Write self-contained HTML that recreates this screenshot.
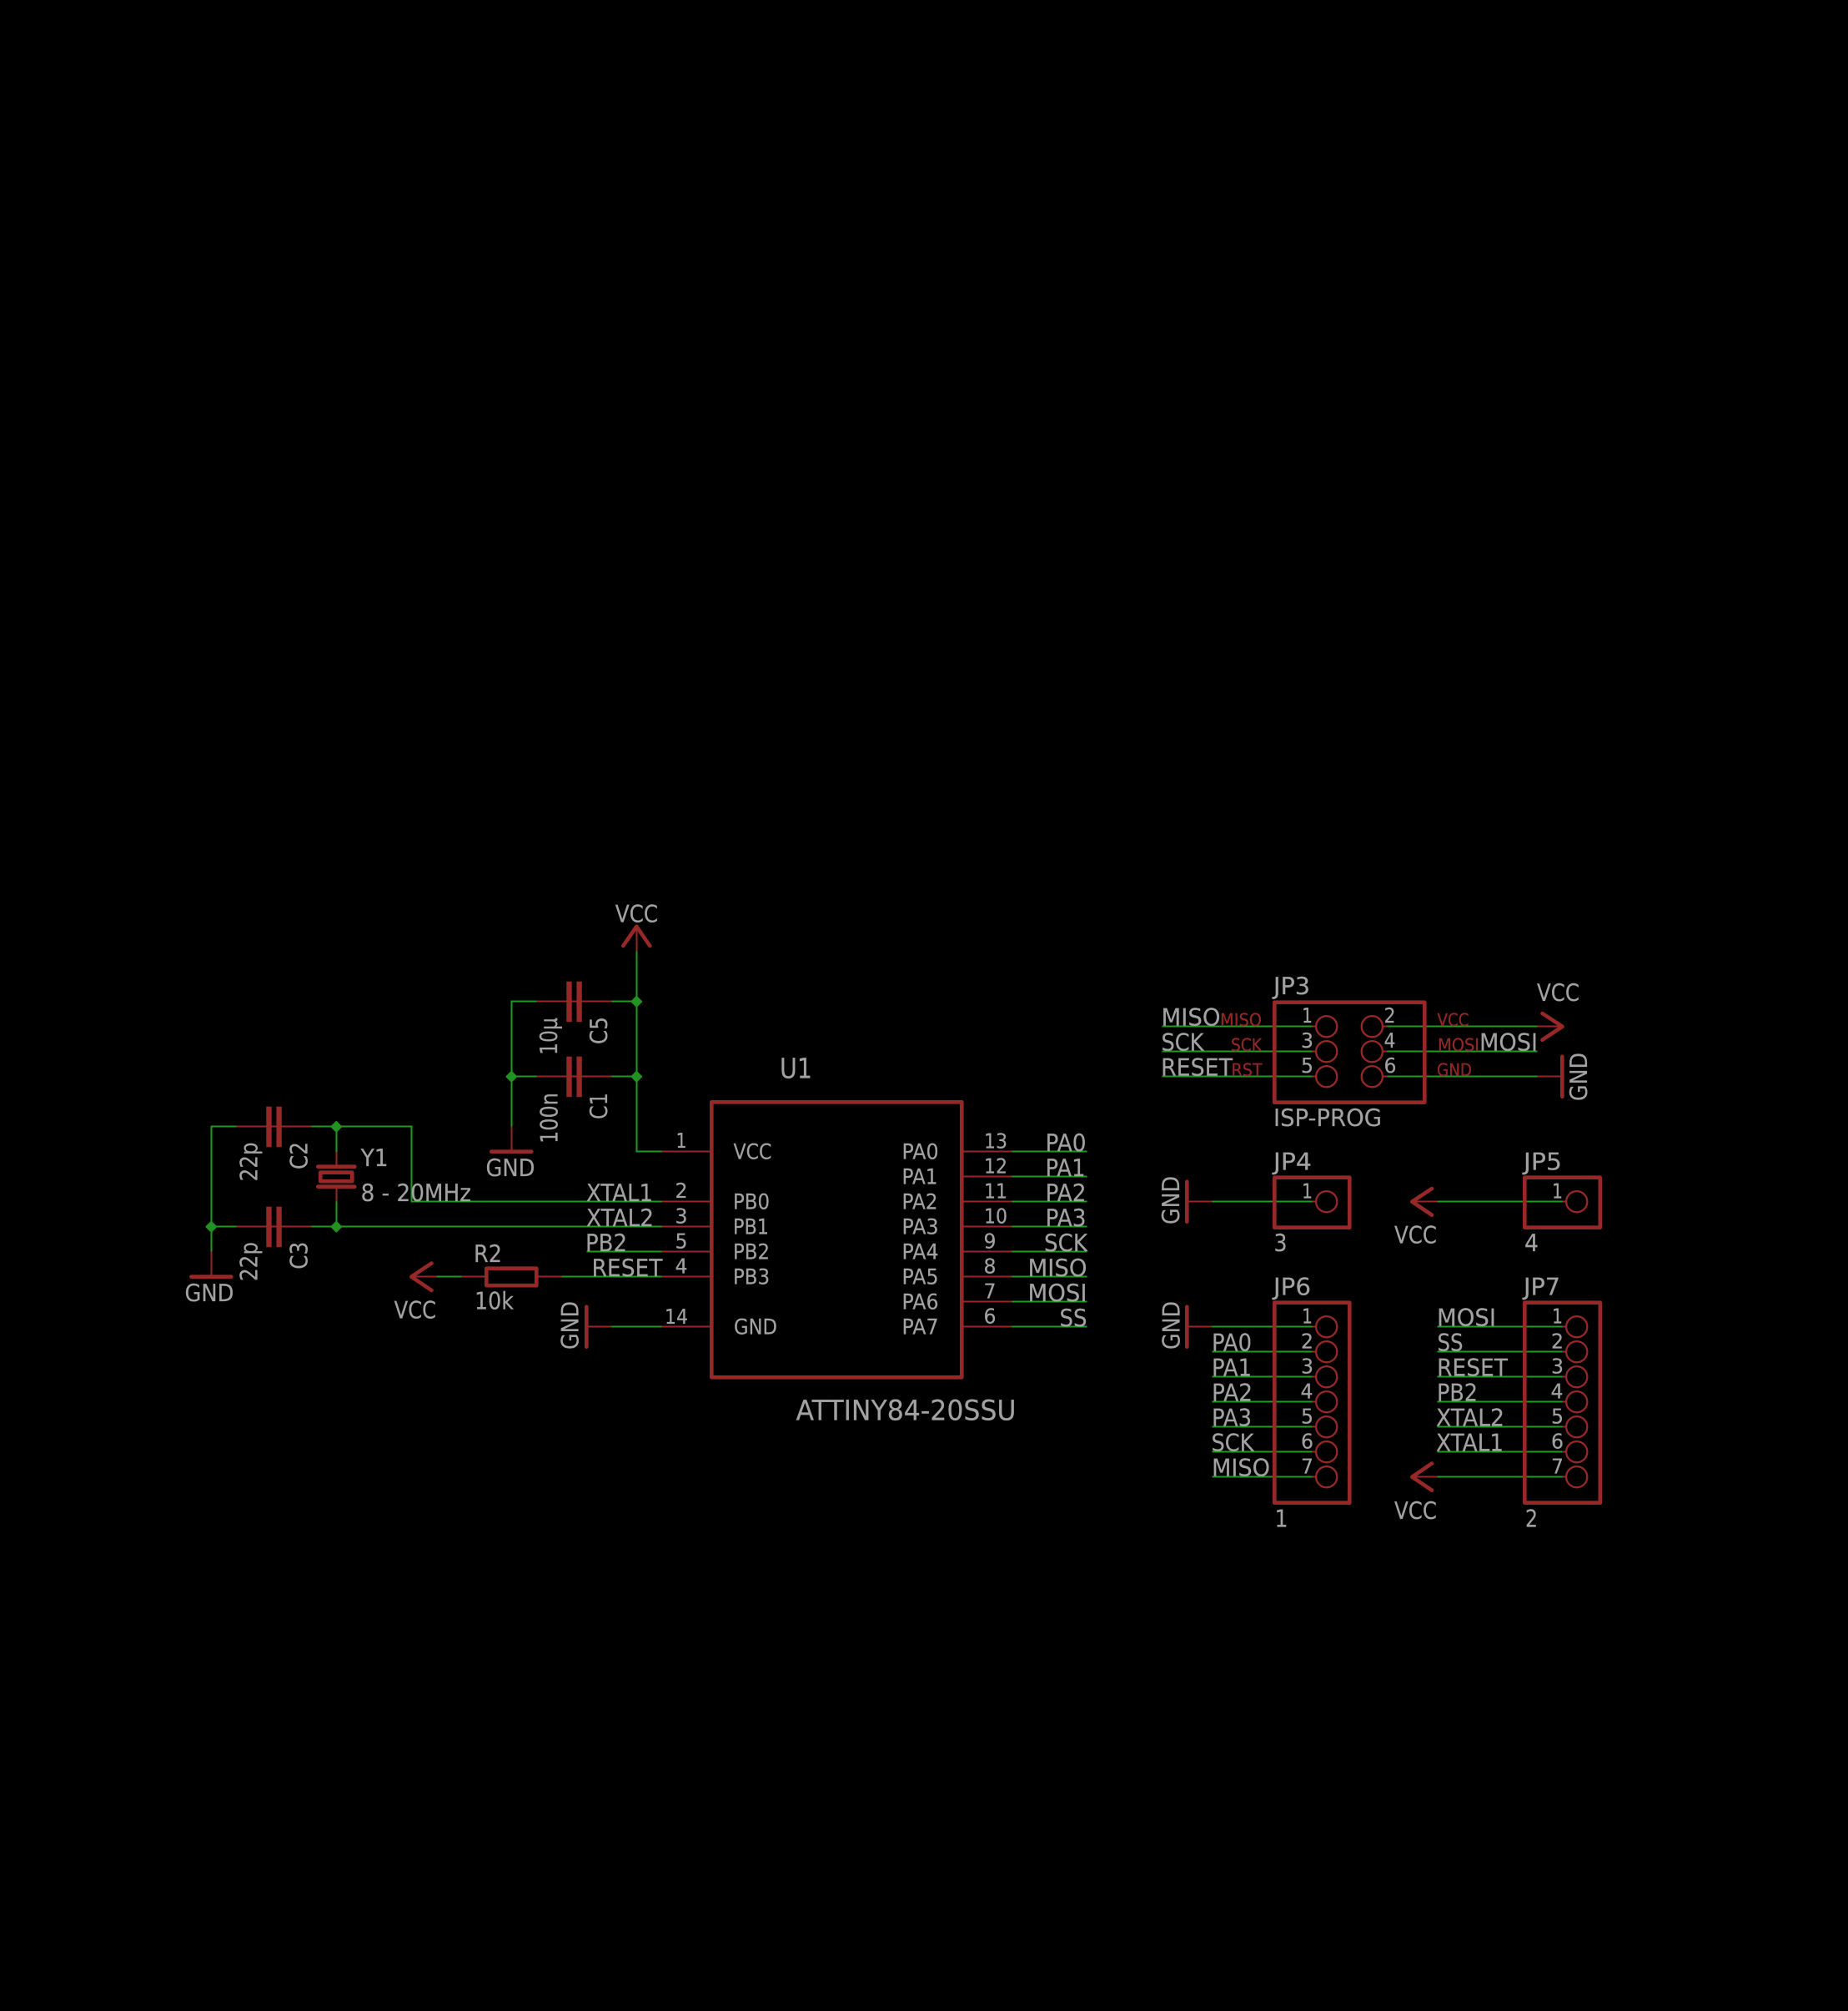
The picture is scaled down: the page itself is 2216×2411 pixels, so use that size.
<!DOCTYPE html>
<html><head><meta charset="utf-8"><title>ATTINY84 schematic</title>
<style>
html,body{margin:0;padding:0;background:#000;width:2216px;height:2411px;overflow:hidden}
svg{display:block}
text{font-family:"DejaVu Sans","Liberation Sans",sans-serif;fill:#a2a2a2;stroke:#a2a2a2;stroke-width:.2;text-rendering:geometricPrecision}
.l{font-size:28.5px}.p{font-size:25.5px}.n{font-size:24.5px}.s{font-size:21px}
.s text{fill:#962828;stroke:#962828}
text.b{font-size:33.5px}
.g{stroke:#229a22;stroke-width:2;fill:none;shape-rendering:crispEdges}
.r{stroke:#962828;stroke-width:2;fill:none;shape-rendering:crispEdges}
.t{stroke:#962828;stroke-width:4.6;fill:none;stroke-linecap:round;stroke-linejoin:round}
.o{stroke:#962828;stroke-width:2.3;fill:none}
.f{fill:#962828}
.d path{fill:#229222;stroke:#229222;stroke-width:2.5;stroke-linejoin:round}
</style></head><body>
<svg xmlns="http://www.w3.org/2000/svg" width="2216" height="2411" viewBox="0 0 2216 2411">
<rect width="2216" height="2411" fill="#000"/>

<!-- green wires, left sheet -->
<path class="g" d="M763.3 1140.7V1380.7H793.3M613.3 1350.7V1200.7H643.3M733.3 1200.7H763.3M613.3 1290.7H643.3M733.3 1290.7H763.3"/>
<path class="g" d="M253.3 1500.7V1350.7H283.3M373.3 1350.7H493.3V1440.7H793.3M403.3 1350.7V1381M403.3 1440V1470.7M253.3 1470.7H283.3M373.3 1470.7H793.3M703.3 1500.7H793.3M673.3 1530.7H793.3M523.3 1530.7H553.3M732.3 1590.7H793.3"/>
<!-- green wires, right of U1 -->
<path class="g" d="M1213.3 1380.7H1303.3M1213.3 1410.7H1303.3M1213.3 1440.7H1303.3M1213.3 1470.7H1303.3M1213.3 1500.7H1303.3M1213.3 1530.7H1303.3M1213.3 1560.7H1303.3M1213.3 1590.7H1303.3"/>
<!-- green wires, JP3 -->
<path class="g" d="M1393.3 1230.7H1573.3M1393.3 1260.7H1573.3M1393.3 1290.7H1573.3M1663.3 1230.7H1843.3M1663.3 1260.7H1843.3M1663.3 1290.7H1843.3"/>
<!-- green wires, JP4 JP5 -->
<path class="g" d="M1453.3 1440.7H1573.3M1723.3 1440.7H1873.3"/>
<!-- green wires, JP6 JP7 -->
<path class="g" d="M1453.3 1590.7H1573.3M1453.3 1620.7H1573.3M1453.3 1650.7H1573.3M1453.3 1680.7H1573.3M1453.3 1710.7H1573.3M1453.3 1740.7H1573.3M1453.3 1770.7H1573.3"/>
<path class="g" d="M1723.3 1590.7H1873.3M1723.3 1620.7H1873.3M1723.3 1650.7H1873.3M1723.3 1680.7H1873.3M1723.3 1710.7H1873.3M1723.3 1740.7H1873.3M1723.3 1770.7H1873.3"/>

<!-- junctions -->
<g class="d">
<path d="M763.3 1195.2L768.8 1200.7L763.3 1206.2L757.8 1200.7Z"/>
<path d="M763.3 1285.2L768.8 1290.7L763.3 1296.2L757.8 1290.7Z"/>
<path d="M613.3 1285.2L618.8 1290.7L613.3 1296.2L607.8 1290.7Z"/>
<path d="M403.3 1345.2L408.8 1350.7L403.3 1356.2L397.8 1350.7Z"/>
<path d="M403.3 1465.2L408.8 1470.7L403.3 1476.2L397.8 1470.7Z"/>
<path d="M253.3 1465.2L258.8 1470.7L253.3 1476.2L247.8 1470.7Z"/>
</g>

<!-- capacitors -->
<path class="r" d="M643.3 1200.7H733.3M643.3 1290.7H733.3M283.3 1350.7H373.3M283.3 1470.7H373.3"/>
<g class="f">
<rect x="679.3" y="1176.7" width="6.4" height="48.5"/><rect x="691.4" y="1176.7" width="6.4" height="48.5"/>
<rect x="679.3" y="1266.7" width="6.4" height="48.5"/><rect x="691.4" y="1266.7" width="6.4" height="48.5"/>
<rect x="319.3" y="1326.7" width="6.4" height="48.5"/><rect x="331.4" y="1326.7" width="6.4" height="48.5"/>
<rect x="319.3" y="1446.7" width="6.4" height="48.5"/><rect x="331.4" y="1446.7" width="6.4" height="48.5"/>
</g>

<!-- crystal -->
<path class="r" d="M403.3 1381V1399M403.3 1423V1440.7"/>
<path class="t" d="M381.3 1398.7H425.3M381.3 1422.7H425.3"/>
<rect class="t" x="384.3" y="1405.7" width="38" height="10.5"/>

<!-- resistor + VCC arrow -->
<path class="r" d="M493.3 1530.7H523.3M553.3 1530.7H583.3M643.3 1530.7H673.3"/>
<rect class="t" x="583.3" y="1520.7" width="60" height="20.5"/>
<path class="t" d="M517.5 1514.5L493.3 1530.7L517.5 1547"/>

<!-- top VCC arrow -->
<path class="r" d="M763.3 1111V1140.7"/>
<path class="t" d="M747.3 1134L763.3 1110.7L779.3 1134"/>

<!-- GND symbols left -->
<path class="r" d="M613.3 1350.7V1380.7M253.3 1500.7V1530.7M703.3 1590.7H733.3"/>
<path class="t" d="M589.3 1380.7H637.3M229.3 1530.7H277.3M703.3 1566.7V1614.7"/>

<!-- U1 -->
<rect class="t" x="853.3" y="1321.3" width="300" height="330"/>
<path class="r" d="M793.3 1380.7H853.3M793.3 1440.7H853.3M793.3 1470.7H853.3M793.3 1500.7H853.3M793.3 1530.7H853.3M793.3 1590.7H853.3"/>
<path class="r" d="M1153.3 1380.7H1213.3M1153.3 1410.7H1213.3M1153.3 1440.7H1213.3M1153.3 1470.7H1213.3M1153.3 1500.7H1213.3M1153.3 1530.7H1213.3M1153.3 1560.7H1213.3M1153.3 1590.7H1213.3"/>

<!-- JP3 -->
<rect class="t" x="1528.3" y="1201.7" width="180" height="120"/>
<g class="o">
<circle cx="1590.7" cy="1230.7" r="12.6"/><circle cx="1590.7" cy="1260.7" r="12.6"/><circle cx="1590.7" cy="1290.7" r="12.6"/>
<circle cx="1645.3" cy="1230.7" r="12.6"/><circle cx="1645.3" cy="1260.7" r="12.6"/><circle cx="1645.3" cy="1290.7" r="12.6"/>
</g>
<path class="r" d="M1573.3 1230.7H1578M1573.3 1260.7H1578M1573.3 1290.7H1578M1658 1230.7H1663.3M1658 1260.7H1663.3M1658 1290.7H1663.3M1843.3 1230.7H1873M1843.3 1290.7H1873.3"/>
<path class="t" d="M1849.5 1215L1873.5 1230.7L1849.5 1246.7M1873.3 1266.7V1314.7"/>

<!-- JP4 / JP5 -->
<rect class="t" x="1528.3" y="1411.7" width="90" height="60"/>
<rect class="t" x="1828.3" y="1411.7" width="90.5" height="60"/>
<circle class="o" cx="1590.7" cy="1440.7" r="12.6"/>
<circle class="o" cx="1890.7" cy="1440.7" r="12.6"/>
<path class="r" d="M1423.3 1440.7H1453.3M1573.3 1440.7H1578M1693.3 1440.7H1723.3M1873.3 1440.7H1878"/>
<path class="t" d="M1423.3 1416.7V1464.7M1717 1425L1693.3 1440.7L1717 1456.7"/>

<!-- JP6 / JP7 -->
<rect class="t" x="1528.3" y="1561.7" width="90" height="240"/>
<rect class="t" x="1828.3" y="1561.7" width="90.5" height="240"/>
<g class="o">
<circle cx="1590.7" cy="1590.7" r="12.6"/><circle cx="1590.7" cy="1620.7" r="12.6"/><circle cx="1590.7" cy="1650.7" r="12.6"/><circle cx="1590.7" cy="1680.7" r="12.6"/><circle cx="1590.7" cy="1710.7" r="12.6"/><circle cx="1590.7" cy="1740.7" r="12.6"/><circle cx="1590.7" cy="1770.7" r="12.6"/>
<circle cx="1890.7" cy="1590.7" r="12.6"/><circle cx="1890.7" cy="1620.7" r="12.6"/><circle cx="1890.7" cy="1650.7" r="12.6"/><circle cx="1890.7" cy="1680.7" r="12.6"/><circle cx="1890.7" cy="1710.7" r="12.6"/><circle cx="1890.7" cy="1740.7" r="12.6"/><circle cx="1890.7" cy="1770.7" r="12.6"/>
</g>
<path class="r" d="M1423.3 1590.7H1453.3M1573.3 1590.7H1578M1573.3 1620.7H1578M1573.3 1650.7H1578M1573.3 1680.7H1578M1573.3 1710.7H1578M1573.3 1740.7H1578M1573.3 1770.7H1578M1873.3 1590.7H1878M1873.3 1620.7H1878M1873.3 1650.7H1878M1873.3 1680.7H1878M1873.3 1710.7H1878M1873.3 1740.7H1878M1873.3 1770.7H1878M1693.3 1770.7H1723.3"/>
<path class="t" d="M1423.3 1566.7V1614.7M1717 1754.5L1693.3 1770.7L1717 1786.7"/>

<!-- LEFT labels -->
<g class="l">
<text x="737.7" y="1105.4" textLength="51.5" lengthAdjust="spacingAndGlyphs">VCC</text>
<text transform="translate(668.2,1265) rotate(-90)" textLength="45" lengthAdjust="spacingAndGlyphs">10µ</text>
<text transform="translate(728.2,1252) rotate(-90)" textLength="33" lengthAdjust="spacingAndGlyphs">C5</text>
<text transform="translate(668.4,1371) rotate(-90)" textLength="61" lengthAdjust="spacingAndGlyphs">100n</text>
<text transform="translate(728.2,1342) rotate(-90)" textLength="32" lengthAdjust="spacingAndGlyphs">C1</text>
<text transform="translate(308.6,1416.4) rotate(-90)" textLength="47" lengthAdjust="spacingAndGlyphs">22p</text>
<text transform="translate(368.4,1402) rotate(-90)" textLength="33" lengthAdjust="spacingAndGlyphs">C2</text>
<text transform="translate(308.6,1536) rotate(-90)" textLength="47" lengthAdjust="spacingAndGlyphs">22p</text>
<text transform="translate(368.4,1521.7) rotate(-90)" textLength="33" lengthAdjust="spacingAndGlyphs">C3</text>
<text x="432.6" y="1398.2" textLength="33" lengthAdjust="spacingAndGlyphs">Y1</text>
<text x="432.6" y="1440" textLength="132.5" lengthAdjust="spacingAndGlyphs">8 - 20MHz</text>
<text x="582.5" y="1410" textLength="59" lengthAdjust="spacingAndGlyphs">GND</text>
<text x="221.5" y="1560" textLength="59" lengthAdjust="spacingAndGlyphs">GND</text>
<text x="703" y="1440" textLength="80" lengthAdjust="spacingAndGlyphs">XTAL1</text>
<text x="703" y="1470" textLength="81" lengthAdjust="spacingAndGlyphs">XTAL2</text>
<text x="702" y="1500" textLength="50" lengthAdjust="spacingAndGlyphs">PB2</text>
<text x="709.5" y="1530" textLength="85" lengthAdjust="spacingAndGlyphs">RESET</text>
<text x="568" y="1512.9" textLength="34" lengthAdjust="spacingAndGlyphs">R2</text>
<text x="569" y="1569.6" textLength="47" lengthAdjust="spacingAndGlyphs">10k</text>
<text x="472.6" y="1580.7" textLength="50.5" lengthAdjust="spacingAndGlyphs">VCC</text>
<text transform="translate(693.3,1618) rotate(-90)" textLength="58" lengthAdjust="spacingAndGlyphs">GND</text>
</g>
<g class="n">
<text x="810.5" y="1376" textLength="13" lengthAdjust="spacingAndGlyphs">1</text>
<text x="809.5" y="1436" textLength="15" lengthAdjust="spacingAndGlyphs">2</text>
<text x="809.5" y="1466.4" textLength="15" lengthAdjust="spacingAndGlyphs">3</text>
<text x="809.5" y="1496.4" textLength="15" lengthAdjust="spacingAndGlyphs">5</text>
<text x="809.5" y="1526.4" textLength="15" lengthAdjust="spacingAndGlyphs">4</text>
<text x="797" y="1586.8" textLength="28" lengthAdjust="spacingAndGlyphs">14</text>
<text x="1180" y="1376.7" textLength="28" lengthAdjust="spacingAndGlyphs">13</text>
<text x="1180" y="1406.7" textLength="28" lengthAdjust="spacingAndGlyphs">12</text>
<text x="1180" y="1436.7" textLength="28" lengthAdjust="spacingAndGlyphs">11</text>
<text x="1180" y="1466.7" textLength="28" lengthAdjust="spacingAndGlyphs">10</text>
<text x="1179.5" y="1496.7" textLength="15" lengthAdjust="spacingAndGlyphs">9</text>
<text x="1179.5" y="1526.7" textLength="15" lengthAdjust="spacingAndGlyphs">8</text>
<text x="1179.5" y="1556.7" textLength="15" lengthAdjust="spacingAndGlyphs">7</text>
<text x="1179.5" y="1586.7" textLength="15" lengthAdjust="spacingAndGlyphs">6</text>
</g>
<g class="p">
<text x="879.5" y="1389.3" textLength="46" lengthAdjust="spacingAndGlyphs">VCC</text>
<text x="879" y="1449.3" textLength="44" lengthAdjust="spacingAndGlyphs">PB0</text>
<text x="879" y="1479.3" textLength="43" lengthAdjust="spacingAndGlyphs">PB1</text>
<text x="879" y="1509.3" textLength="44" lengthAdjust="spacingAndGlyphs">PB2</text>
<text x="879" y="1539.3" textLength="44" lengthAdjust="spacingAndGlyphs">PB3</text>
<text x="880" y="1599.3" textLength="52" lengthAdjust="spacingAndGlyphs">GND</text>
<text x="1081.5" y="1389.3" textLength="44" lengthAdjust="spacingAndGlyphs">PA0</text>
<text x="1081.5" y="1419.3" textLength="43" lengthAdjust="spacingAndGlyphs">PA1</text>
<text x="1081.5" y="1449.3" textLength="43" lengthAdjust="spacingAndGlyphs">PA2</text>
<text x="1081.5" y="1479.3" textLength="44" lengthAdjust="spacingAndGlyphs">PA3</text>
<text x="1081.5" y="1509.3" textLength="44" lengthAdjust="spacingAndGlyphs">PA4</text>
<text x="1081.5" y="1539.3" textLength="44" lengthAdjust="spacingAndGlyphs">PA5</text>
<text x="1081.5" y="1569.3" textLength="44" lengthAdjust="spacingAndGlyphs">PA6</text>
<text x="1081.5" y="1599.3" textLength="44" lengthAdjust="spacingAndGlyphs">PA7</text>
</g>
<text class="b" x="935" y="1292.3" textLength="39" lengthAdjust="spacingAndGlyphs">U1</text>
<text class="b" x="954.5" y="1702.3" textLength="264" lengthAdjust="spacingAndGlyphs">ATTINY84-20SSU</text>
<g class="l">
<text x="1253.5" y="1380" textLength="49" lengthAdjust="spacingAndGlyphs">PA0</text>
<text x="1253.5" y="1410" textLength="48" lengthAdjust="spacingAndGlyphs">PA1</text>
<text x="1253.5" y="1440" textLength="49" lengthAdjust="spacingAndGlyphs">PA2</text>
<text x="1253.5" y="1470" textLength="49" lengthAdjust="spacingAndGlyphs">PA3</text>
<text x="1252" y="1500" textLength="52" lengthAdjust="spacingAndGlyphs">SCK</text>
<text x="1232.5" y="1530" textLength="71" lengthAdjust="spacingAndGlyphs">MISO</text>
<text x="1232.5" y="1560" textLength="71" lengthAdjust="spacingAndGlyphs">MOSI</text>
<text x="1270.5" y="1590" textLength="33" lengthAdjust="spacingAndGlyphs">SS</text>

<!-- JP3 labels -->
<text x="1392.5" y="1229.3" textLength="71" lengthAdjust="spacingAndGlyphs">MISO</text>
<text x="1392.5" y="1259.3" textLength="51" lengthAdjust="spacingAndGlyphs">SCK</text>
<text x="1392" y="1289.3" textLength="86" lengthAdjust="spacingAndGlyphs">RESET</text>
<text x="1774" y="1259.3" textLength="70" lengthAdjust="spacingAndGlyphs">MOSI</text>
<text x="1843" y="1200" textLength="51" lengthAdjust="spacingAndGlyphs">VCC</text>
<text transform="translate(1903,1320) rotate(-90)" textLength="58" lengthAdjust="spacingAndGlyphs">GND</text>
<text x="1527" y="1192" textLength="44" lengthAdjust="spacingAndGlyphs">JP3</text>
<text x="1527" y="1350" textLength="130" lengthAdjust="spacingAndGlyphs">ISP-PROG</text>

<!-- JP4 / 5 labels -->
<text transform="translate(1414,1468) rotate(-90)" textLength="58" lengthAdjust="spacingAndGlyphs">GND</text>
<text x="1527" y="1402.3" textLength="46" lengthAdjust="spacingAndGlyphs">JP4</text>
<text x="1527.5" y="1500" textLength="16" lengthAdjust="spacingAndGlyphs">3</text>
<text x="1827" y="1402.3" textLength="46" lengthAdjust="spacingAndGlyphs">JP5</text>
<text x="1828" y="1500" textLength="17" lengthAdjust="spacingAndGlyphs">4</text>
<text x="1672" y="1490.7" textLength="51" lengthAdjust="spacingAndGlyphs">VCC</text>

<!-- JP6 / 7 labels -->
<text transform="translate(1414.7,1618) rotate(-90)" textLength="58" lengthAdjust="spacingAndGlyphs">GND</text>
<text x="1527" y="1552.3" textLength="45" lengthAdjust="spacingAndGlyphs">JP6</text>
<text x="1528.5" y="1830.7" textLength="16" lengthAdjust="spacingAndGlyphs">1</text>
<text x="1453" y="1619.3" textLength="48" lengthAdjust="spacingAndGlyphs">PA0</text>
<text x="1453" y="1649.3" textLength="48" lengthAdjust="spacingAndGlyphs">PA1</text>
<text x="1453" y="1679.3" textLength="49" lengthAdjust="spacingAndGlyphs">PA2</text>
<text x="1453" y="1709.3" textLength="48" lengthAdjust="spacingAndGlyphs">PA3</text>
<text x="1452.5" y="1739.3" textLength="51" lengthAdjust="spacingAndGlyphs">SCK</text>
<text x="1453" y="1769.3" textLength="70" lengthAdjust="spacingAndGlyphs">MISO</text>

<text x="1827" y="1552.3" textLength="44" lengthAdjust="spacingAndGlyphs">JP7</text>
<text x="1829" y="1830.7" textLength="15" lengthAdjust="spacingAndGlyphs">2</text>
<text x="1723" y="1589.3" textLength="71" lengthAdjust="spacingAndGlyphs">MOSI</text>
<text x="1723.5" y="1619.3" textLength="31" lengthAdjust="spacingAndGlyphs">SS</text>
<text x="1723" y="1649.3" textLength="85" lengthAdjust="spacingAndGlyphs">RESET</text>
<text x="1723" y="1679.3" textLength="49" lengthAdjust="spacingAndGlyphs">PB2</text>
<text x="1722" y="1709.3" textLength="82" lengthAdjust="spacingAndGlyphs">XTAL2</text>
<text x="1722" y="1739.3" textLength="81" lengthAdjust="spacingAndGlyphs">XTAL1</text>
<text x="1672" y="1821" textLength="51" lengthAdjust="spacingAndGlyphs">VCC</text>
</g>

<!-- connector pin numbers -->
<g class="n">
<text x="1561" y="1226" textLength="13" lengthAdjust="spacingAndGlyphs">1</text>
<text x="1560" y="1256" textLength="15" lengthAdjust="spacingAndGlyphs">3</text>
<text x="1560" y="1286" textLength="15" lengthAdjust="spacingAndGlyphs">5</text>
<text x="1659.5" y="1226" textLength="14" lengthAdjust="spacingAndGlyphs">2</text>
<text x="1659.5" y="1256" textLength="14" lengthAdjust="spacingAndGlyphs">4</text>
<text x="1659.5" y="1286" textLength="15" lengthAdjust="spacingAndGlyphs">6</text>
<text x="1561" y="1436.7" textLength="13" lengthAdjust="spacingAndGlyphs">1</text>
<text x="1861" y="1436.7" textLength="13" lengthAdjust="spacingAndGlyphs">1</text>
<text x="1561" y="1586.7" textLength="13" lengthAdjust="spacingAndGlyphs">1</text>
<text x="1560" y="1616.7" textLength="15" lengthAdjust="spacingAndGlyphs">2</text>
<text x="1560" y="1646.7" textLength="15" lengthAdjust="spacingAndGlyphs">3</text>
<text x="1559.5" y="1676.7" textLength="15" lengthAdjust="spacingAndGlyphs">4</text>
<text x="1560" y="1706.7" textLength="15" lengthAdjust="spacingAndGlyphs">5</text>
<text x="1560" y="1736.7" textLength="15" lengthAdjust="spacingAndGlyphs">6</text>
<text x="1560" y="1766.7" textLength="15" lengthAdjust="spacingAndGlyphs">7</text>
<text x="1861" y="1586.7" textLength="13" lengthAdjust="spacingAndGlyphs">1</text>
<text x="1860" y="1616.7" textLength="15" lengthAdjust="spacingAndGlyphs">2</text>
<text x="1860" y="1646.7" textLength="15" lengthAdjust="spacingAndGlyphs">3</text>
<text x="1859.5" y="1676.7" textLength="15" lengthAdjust="spacingAndGlyphs">4</text>
<text x="1860" y="1706.7" textLength="15" lengthAdjust="spacingAndGlyphs">5</text>
<text x="1860" y="1736.7" textLength="15" lengthAdjust="spacingAndGlyphs">6</text>
<text x="1860" y="1766.7" textLength="15" lengthAdjust="spacingAndGlyphs">7</text>
</g>

<!-- small red labels -->
<g class="s">
<text x="1463" y="1230" textLength="50" lengthAdjust="spacingAndGlyphs">MISO</text>
<text x="1476" y="1260" textLength="37" lengthAdjust="spacingAndGlyphs">SCK</text>
<text x="1476.5" y="1290" textLength="37" lengthAdjust="spacingAndGlyphs">RST</text>
<text x="1723.5" y="1230" textLength="38" lengthAdjust="spacingAndGlyphs">VCC</text>
<text x="1724" y="1260" textLength="50" lengthAdjust="spacingAndGlyphs">MOSI</text>
<text x="1723" y="1290" textLength="42" lengthAdjust="spacingAndGlyphs">GND</text>
</g>
</svg>
</body></html>
